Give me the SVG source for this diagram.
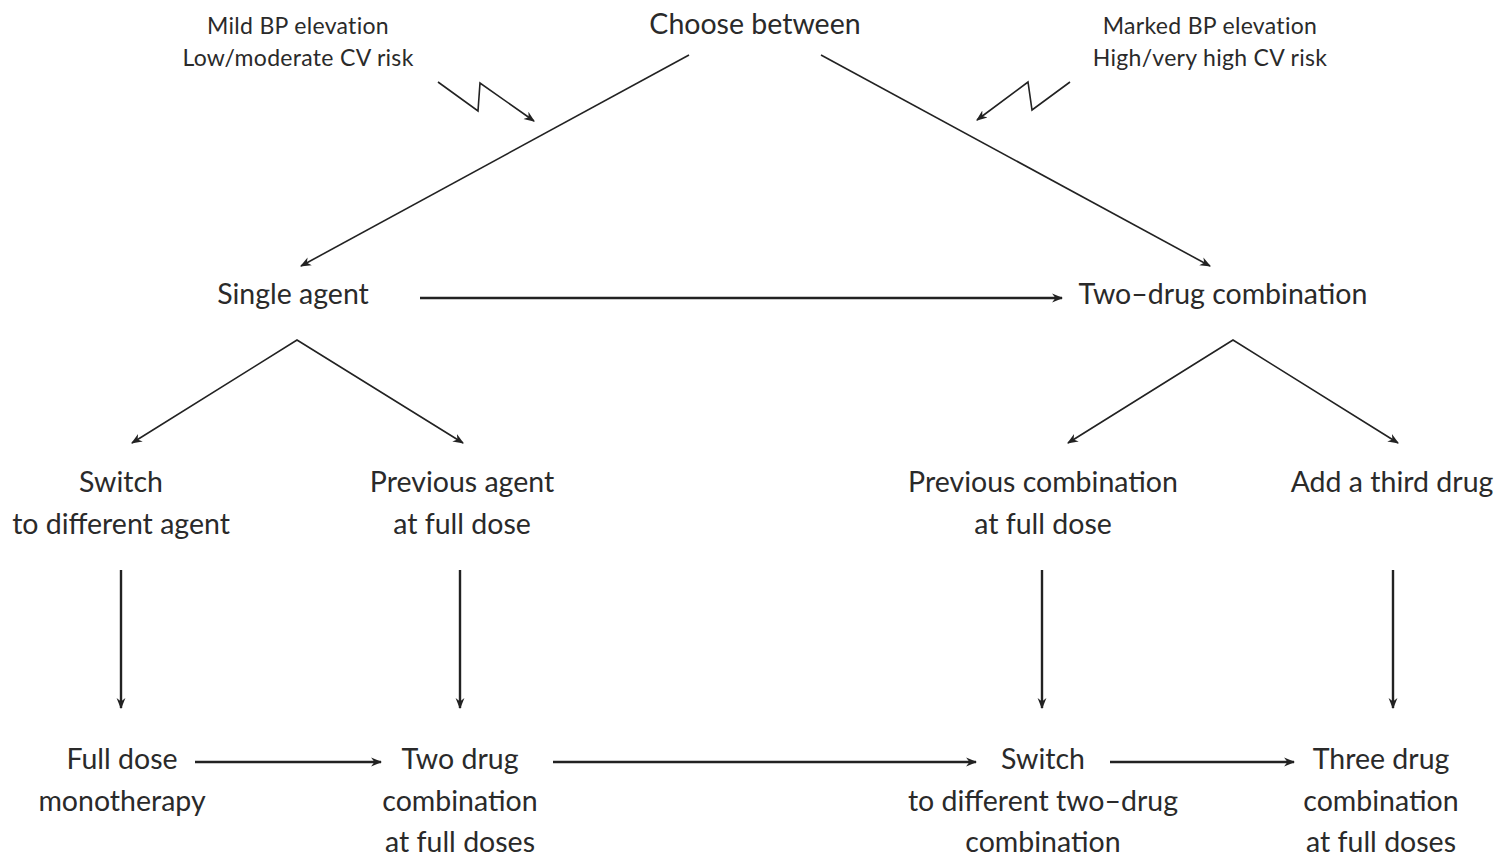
<svg xmlns="http://www.w3.org/2000/svg" width="1508" height="856" viewBox="0 0 1508 856">
<defs>
<marker id="ah" viewBox="0 0 10 10" refX="9" refY="5" markerWidth="11" markerHeight="11" markerUnits="userSpaceOnUse" orient="auto-start-reverse">
<path d="M0,1 L10,5 L0,9 L3,5 Z" fill="#222"/>
</marker>
</defs>
<style>
text{font-family:Lato,"Open Sans","Liberation Sans",sans-serif;fill:#2a2a2a;text-anchor:middle}
.m{font-size:28.5px}
.s{font-size:23px;letter-spacing:0.3px}
.c line,.c polyline{stroke:#222;fill:none}
.d{stroke-width:1.6;stroke:#444}
.h{stroke-width:2.4}
</style>
<rect width="1508" height="856" fill="#fff"/>
<g id="top"><text class="m" x="755" y="34">Choose between</text></g>
<g id="mild"><text class="s" x="298" y="34">Mild BP elevation</text><text class="s" x="298" y="66">Low/moderate CV risk</text></g>
<g id="marked"><text class="s" x="1210" y="34">Marked BP elevation</text><text class="s" x="1210" y="66">High/very high CV risk</text></g>
<g id="single"><text class="m" x="293" y="304">Single agent</text></g>
<g id="twodrug"><text class="m" x="1223" y="304">Two–drug combination</text></g>
<g id="switch1"><text class="m" x="121" y="492">Switch</text><text class="m" x="121" y="534">to different agent</text></g>
<g id="prevagent"><text class="m" x="462" y="492">Previous agent</text><text class="m" x="462" y="534">at full dose</text></g>
<g id="prevcomb"><text class="m" x="1043" y="492">Previous combination</text><text class="m" x="1043" y="534">at full dose</text></g>
<g id="third"><text class="m" x="1392" y="492">Add a third drug</text></g>
<g id="fullmono"><text class="m" x="122" y="769">Full dose</text><text class="m" x="122" y="811">monotherapy</text></g>
<g id="twofull"><text class="m" x="460" y="769">Two drug</text><text class="m" x="460" y="811">combination</text><text class="m" x="460" y="852">at full doses</text></g>
<g id="switch2"><text class="m" x="1043" y="769">Switch</text><text class="m" x="1043" y="811">to different two–drug</text><text class="m" x="1043" y="852">combination</text></g>
<g id="threefull"><text class="m" x="1381" y="769">Three drug</text><text class="m" x="1381" y="811">combination</text><text class="m" x="1381" y="852">at full doses</text></g>
<g id="connectors" class="c">
<polyline class="d" points="438,82 478,111 480,83 534,121" marker-end="url(#ah)"/>
<polyline class="d" points="1070,82 1032,110 1028,82 977,120" marker-end="url(#ah)"/>
<line class="d" x1="689" y1="55" x2="301" y2="266" marker-end="url(#ah)"/>
<line class="d" x1="821" y1="55" x2="1210" y2="266" marker-end="url(#ah)"/>
<line class="h" x1="420" y1="298" x2="1062" y2="298" marker-end="url(#ah)"/>
<polyline class="d" points="132,443 297,340 463,443" marker-start="url(#ah)" marker-end="url(#ah)"/>
<polyline class="d" points="1068,443 1233,340 1398,443" marker-start="url(#ah)" marker-end="url(#ah)"/>
<line class="h" x1="121" y1="570" x2="121" y2="708" marker-end="url(#ah)"/>
<line class="h" x1="460" y1="570" x2="460" y2="708" marker-end="url(#ah)"/>
<line class="h" x1="1042" y1="570" x2="1042" y2="708" marker-end="url(#ah)"/>
<line class="h" x1="1393" y1="570" x2="1393" y2="708" marker-end="url(#ah)"/>
<line class="h" x1="195" y1="762" x2="381" y2="762" marker-end="url(#ah)"/>
<line class="h" x1="553" y1="762" x2="976" y2="762" marker-end="url(#ah)"/>
<line class="h" x1="1110" y1="762" x2="1294" y2="762" marker-end="url(#ah)"/>
</g>
</svg>
